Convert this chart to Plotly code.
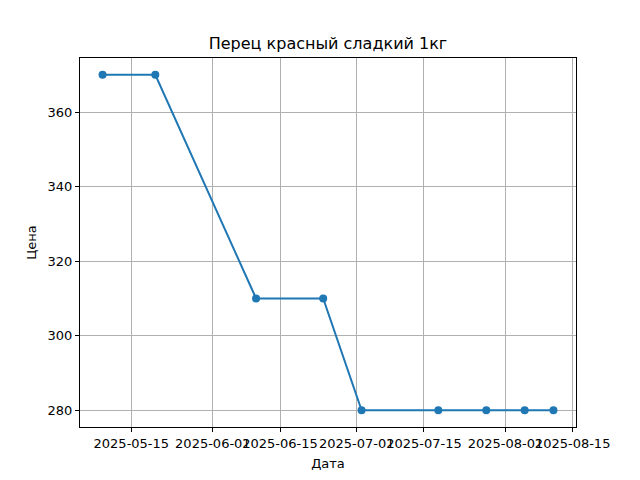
import plotly.graph_objects as go
import pandas as pd

dates = ["2025-05-09", "2025-05-20", "2025-06-10", "2025-06-24", "2025-07-02",
         "2025-07-18", "2025-07-28", "2025-08-05", "2025-08-11"]
prices = [370, 370, 310, 310, 280, 280, 280, 280, 280]
x_ticks = ["2025-05-15", "2025-06-01", "2025-06-15", "2025-07-01", "2025-07-15",
           "2025-08-01", "2025-08-15"]
y_ticks = [280, 300, 320, 340, 360]
title = "Перец красный сладкий 1кг"
x_title = "Дата"
y_title = "Цена"

d = pd.to_datetime(dates)
span = d.max() - d.min()
xr = [d.min() - span * 0.05, d.max() + span * 0.05]
ys = max(prices) - min(prices)
yr = [min(prices) - ys * 0.05, max(prices) + ys * 0.05]

fig = go.Figure(go.Scatter(
    x=d, y=prices, mode="lines+markers",
    line=dict(color="#1f77b4", width=2),
    marker=dict(color="#1f77b4", size=8),
))

font = dict(family="DejaVu Sans", size=13, color="black")
axis_common = dict(
    showline=True, linecolor="black", linewidth=1, mirror=True,
    ticks="outside", ticklen=4, tickcolor="black", tickwidth=1,
    showgrid=True, gridcolor="#b0b0b0", gridwidth=1, zeroline=False,
    tickfont=font, automargin=False, tickangle=0,
)
fig.update_layout(
    width=640, height=480,
    margin=dict(l=72, r=72, t=50, b=61),
    paper_bgcolor="white", plot_bgcolor="white",
    showlegend=False,
    title=dict(text=title, x=(72 + 496 / 2) / 640, xanchor="center", y=1 - 35 / 480, yanchor="middle",
               font=dict(family="DejaVu Sans", size=16, color="black")),
    xaxis=dict(range=xr, tickvals=pd.to_datetime(x_ticks), ticktext=x_ticks,
               title=dict(text=x_title, font=font, standoff=9), **axis_common),
    yaxis=dict(range=yr, tickvals=y_ticks, ticktext=[str(v) for v in y_ticks],
               title=dict(text=y_title, font=font, standoff=8), **axis_common),
)
fig.write_html("out.html")
